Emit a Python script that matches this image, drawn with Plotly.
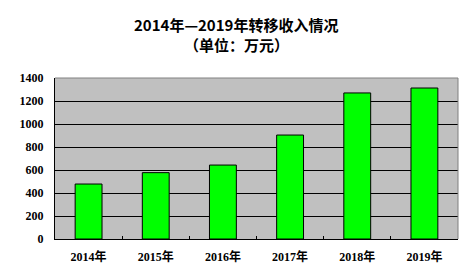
import plotly.graph_objects as go

years = ["2014年", "2015年", "2016年", "2017年", "2018年", "2019年"]
values = [478, 577, 643, 904, 1270, 1313]
y_ticks = [0, 200, 400, 600, 800, 1000, 1200, 1400]
title_lines = ["2014年—2019年转移收入情况", "（单位：万元）"]

fig = go.Figure()
fig.add_trace(go.Bar(
    x=years, y=values,
    marker=dict(color="#00FF00", line=dict(color="black", width=1)),
    width=0.4,
))

fig.update_layout(
    width=473, height=274,
    margin=dict(l=55, r=15, t=78, b=35),
    paper_bgcolor="white",
    plot_bgcolor="#C0C0C0",
    showlegend=False,
    font=dict(family="Liberation Serif", color="black"),
)
for txt, ypix in zip(title_lines, [24, 44]):
    fig.add_annotation(
        text=txt, xref="paper", yref="paper", x=(236 - 55) / 403,
        y=1 + (78 - ypix) / 161, xanchor="center", yanchor="middle",
        showarrow=False,
        font=dict(family="Noto Sans CJK SC", size=15, color="black", weight="bold"),
    )
fig.update_xaxes(
    type="category", automargin=False,
    showline=True, linecolor="black", linewidth=1,
    ticks="inside", tickson="boundaries", ticklen=3, tickcolor="black",
    showgrid=False,
    ticklabelstandoff=7,
    tickfont=dict(family="Liberation Serif, Noto Sans CJK SC", size=12, weight="bold"),
)
fig.update_yaxes(
    range=[0, 1400], automargin=False,
    tickvals=y_ticks,
    showline=True, linecolor="black", linewidth=1,
    ticks="outside", ticklen=0,
    showgrid=True, gridcolor="black", gridwidth=1,
    ticklabelstandoff=8,
    tickfont=dict(family="Liberation Serif", size=12, weight="bold"),
    zeroline=False,
)
# top and right border in gray
fig.add_shape(type="line", xref="paper", yref="paper", x0=0, x1=1, y0=1, y1=1,
              line=dict(color="#808080", width=1))
fig.add_shape(type="line", xref="paper", yref="paper", x0=1, x1=1, y0=0, y1=1,
              line=dict(color="#808080", width=1))

fig.write_html("out.html")
